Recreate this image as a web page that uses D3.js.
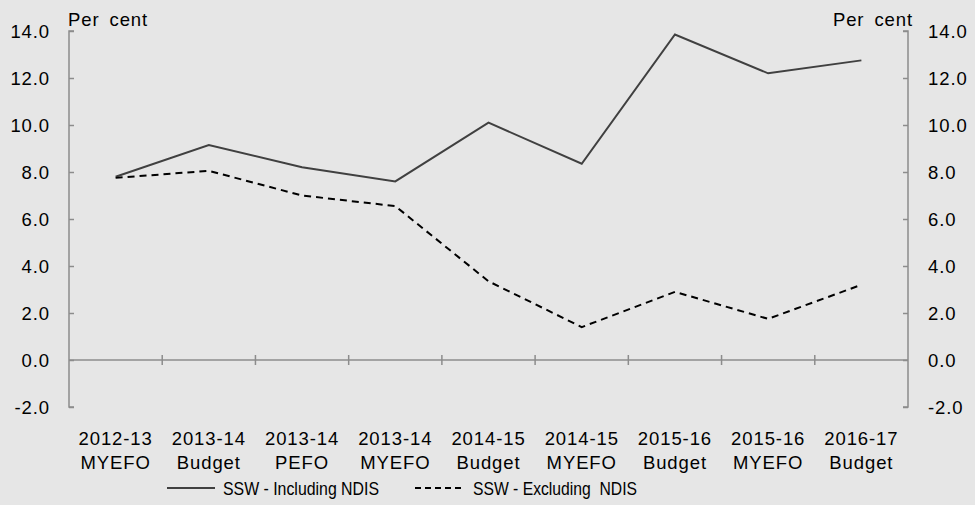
<!DOCTYPE html>
<html>
<head>
<meta charset="utf-8">
<script src="https://cdn.jsdelivr.net/npm/d3@7"></script>
<style>
  html, body { margin: 0; padding: 0; background: #e6e6e6; }
  svg { display: block; font-family: "Liberation Sans", Arial, sans-serif; }
</style>
</head>
<body>
<svg id="chart" width="975" height="505"></svg>
<script>
// Forecast rounds (two-line labels)
const categories = [
  "2012-13 MYEFO", "2013-14 Budget", "2013-14 PEFO", "2013-14 MYEFO",
  "2014-15 Budget", "2014-15 MYEFO", "2015-16 Budget", "2015-16 MYEFO", "2016-17 Budget"
];
// Growth, per cent
const includingNDIS = [7.8, 9.15, 8.2, 7.6, 10.1, 8.35, 13.85, 12.2, 12.75];
const excludingNDIS = [7.75, 8.05, 7.0, 6.55, 3.35, 1.4, 2.9, 1.75, 3.2];
const yTicks = [-2, 0, 2, 4, 6, 8, 10, 12, 14];
const seriesNames = ["SSW - Including NDIS", "SSW - Excluding  NDIS"];

const svg = d3.select("#chart");
const W = 975, H = 505;
svg.append("rect").attr("width", W).attr("height", H).attr("fill", "#e6e6e6");

const plotL = 69, plotR = 908, plotT = 31, plotB = 407;
const axisColor = "#8c8c8c";
const fontSize = 18.5;
const spacing = "0.9px";

const x = d3.scaleBand().domain(categories).range([plotL, plotR]).padding(0);
const y = d3.scaleLinear().domain([-2, 14]).range([plotB, plotT]);

// Left axis: ticks pointing inward
const yl = svg.append("g").attr("transform", `translate(${plotL},0)`)
  .call(d3.axisRight(y).tickValues(yTicks).tickSize(5).tickFormat(""));
yl.select(".domain").attr("stroke", axisColor).attr("stroke-width", 1.5)
  .attr("d", `M5,${plotT}H0V${plotB}H5`);
yl.selectAll(".tick line").attr("stroke", axisColor).attr("stroke-width", 1.5);

// Right axis
const yr = svg.append("g").attr("transform", `translate(${plotR},0)`)
  .call(d3.axisLeft(y).tickValues(yTicks).tickSize(5).tickFormat(""));
yr.select(".domain").attr("stroke", axisColor).attr("stroke-width", 1.5)
  .attr("d", `M-5,${plotT}H0V${plotB}H-5`);
yr.selectAll(".tick line").attr("stroke", axisColor).attr("stroke-width", 1.5);

// Tick labels (plain hyphen for negatives)
const fmt = d => d.toFixed(1);
svg.append("g").selectAll("text").data(yTicks).join("text")
  .attr("x", 50).attr("y", d => y(d) + 6.5)
  .attr("text-anchor", "end").attr("font-size", fontSize)
  .attr("letter-spacing", spacing).attr("fill", "#000")
  .text(d => fmt(d));
svg.append("g").selectAll("text").data(yTicks).join("text")
  .attr("x", 928).attr("y", d => y(d) + 6.5)
  .attr("text-anchor", "start").attr("font-size", fontSize)
  .attr("letter-spacing", spacing).attr("fill", "#000")
  .text(d => fmt(d));

// Unit labels
svg.append("text").attr("x", 68).attr("y", 26).attr("font-size", fontSize)
  .attr("letter-spacing", spacing).attr("word-spacing", "4px").text("Per cent");
svg.append("text").attr("x", 913).attr("y", 26).attr("font-size", fontSize)
  .attr("text-anchor", "end").attr("letter-spacing", spacing)
  .attr("word-spacing", "4px").text("Per cent");

// Zero line with category ticks
const xa = svg.append("g").attr("transform", `translate(0,${y(0)})`);
xa.append("line").attr("x1", plotL).attr("x2", plotR).attr("stroke", axisColor).attr("stroke-width", 1.5);
xa.selectAll(".ctick").data(categories.slice(1)).join("line")
  .attr("class", "ctick")
  .attr("x1", d => x(d)).attr("x2", d => x(d))
  .attr("y1", -5).attr("y2", 5)
  .attr("stroke", axisColor).attr("stroke-width", 1.5);

// Category labels
const cl = svg.append("g").selectAll("text").data(categories).join("text")
  .attr("text-anchor", "middle").attr("font-size", fontSize)
  .attr("letter-spacing", spacing).attr("fill", "#000")
  .attr("transform", d => `translate(${x(d) + x.bandwidth() / 2},0)`);
cl.append("tspan").attr("x", 0).attr("y", 445).text(d => d.split(" ")[0]);
cl.append("tspan").attr("x", 0).attr("y", 469).text(d => d.split(" ")[1]);

// Series lines
const line = d3.line()
  .x((d, i) => x(categories[i]) + x.bandwidth() / 2)
  .y(d => y(d));
svg.append("path").datum(includingNDIS).attr("d", line)
  .attr("fill", "none").attr("stroke", "#404040").attr("stroke-width", 2);
svg.append("path").datum(excludingNDIS).attr("d", line)
  .attr("fill", "none").attr("stroke", "#000").attr("stroke-width", 2)
  .attr("stroke-dasharray", "7,5");

// Legend (condensed text)
const lg = svg.append("g");
lg.append("line").attr("x1", 167).attr("x2", 215).attr("y1", 488).attr("y2", 488)
  .attr("stroke", "#404040").attr("stroke-width", 2);
lg.append("text").attr("x", 223).attr("y", 495).attr("font-size", fontSize)
  .attr("textLength", 156).attr("lengthAdjust", "spacingAndGlyphs")
  .text(seriesNames[0]);
lg.append("line").attr("x1", 415).attr("x2", 463).attr("y1", 488).attr("y2", 488)
  .attr("stroke", "#000").attr("stroke-width", 2).attr("stroke-dasharray", "6,4");
lg.append("text").attr("x", 473).attr("y", 495).attr("font-size", fontSize)
  .attr("textLength", 164).attr("lengthAdjust", "spacingAndGlyphs")
  .style("white-space", "pre")
  .text(seriesNames[1]);
</script>
</body>
</html>
